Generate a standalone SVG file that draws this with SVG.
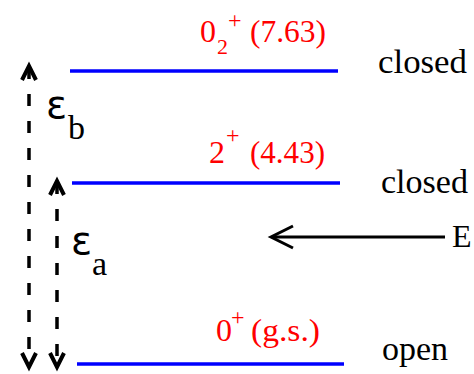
<svg xmlns="http://www.w3.org/2000/svg" width="474" height="374" viewBox="0 0 474 374">
<style>
.lvl{stroke:#0000ff;stroke-width:3.5;fill:none}
.red{fill:#ff0000;font-family:"Liberation Serif",serif}
.blk{fill:#000;font-family:"Liberation Serif",serif}
.dash{stroke:#000;stroke-width:3.5;stroke-dasharray:12 15;fill:none}
.head{stroke:#000;stroke-width:4;fill:none;stroke-linecap:butt;stroke-linejoin:miter}
.solid{stroke:#000;stroke-width:3;fill:none}
.eps{fill:#000;font-family:"DejaVu Sans",sans-serif}
</style>
<g id="level-0plus2">
<line class="lvl" x1="70" y1="71" x2="338" y2="71"/>
<text class="red" font-size="32" x="200" y="42">0</text>
<text class="red" font-size="22" x="217" y="54">2</text>
<text class="red" font-size="24" x="228" y="28">+</text>
<text class="red" font-size="32" x="250" y="42" textLength="76" lengthAdjust="spacingAndGlyphs">(7.63)</text>
<text class="blk" font-size="34" x="378" y="73" textLength="89" lengthAdjust="spacingAndGlyphs">closed</text>
</g>
<g id="level-2plus">
<line class="lvl" x1="72" y1="183" x2="340" y2="183"/>
<text class="red" font-size="32" x="209" y="163">2</text>
<text class="red" font-size="24" x="226" y="143">+</text>
<text class="red" font-size="32" x="250" y="163" textLength="75" lengthAdjust="spacingAndGlyphs">(4.43)</text>
<text class="blk" font-size="34" x="381" y="193" textLength="87" lengthAdjust="spacingAndGlyphs">closed</text>
</g>
<g id="level-gs">
<line class="lvl" x1="77" y1="364" x2="344" y2="364"/>
<text class="red" font-size="32" x="216" y="341">0</text>
<text class="red" font-size="24" x="231" y="325">+</text>
<text class="red" font-size="32" x="251" y="341" textLength="69" lengthAdjust="spacingAndGlyphs">(g.s.)</text>
<text class="blk" font-size="34" x="382" y="360">open</text>
</g>
<g id="label-eps-b">
<text class="eps" font-size="39" x="46" y="118">ε</text>
<text class="blk" font-size="34" x="68" y="139">b</text>
</g>
<g id="label-eps-a">
<text class="eps" font-size="39" x="71" y="254">ε</text>
<text class="blk" font-size="34" x="92" y="275">a</text>
</g>
<g id="label-E">
<text class="blk" font-size="32" x="452" y="247">E</text>
</g>
<g id="connectors">
<line class="dash" x1="29" y1="67" x2="29" y2="365"/>
<path class="head" d="M22,80 L29,66 L36,80"/>
<path class="head" d="M22,353 L29,367 L36,353"/>
<line class="dash" x1="57" y1="182" x2="57" y2="365"/>
<path class="head" d="M50,195 L57,181 L64,195"/>
<path class="head" d="M50,353 L57,367 L64,353"/>
<line class="solid" x1="272" y1="237" x2="445" y2="237"/>
<path class="head" d="M293,226 L271,237 L293,248" style="stroke-width:3"/>
</g>
</svg>
